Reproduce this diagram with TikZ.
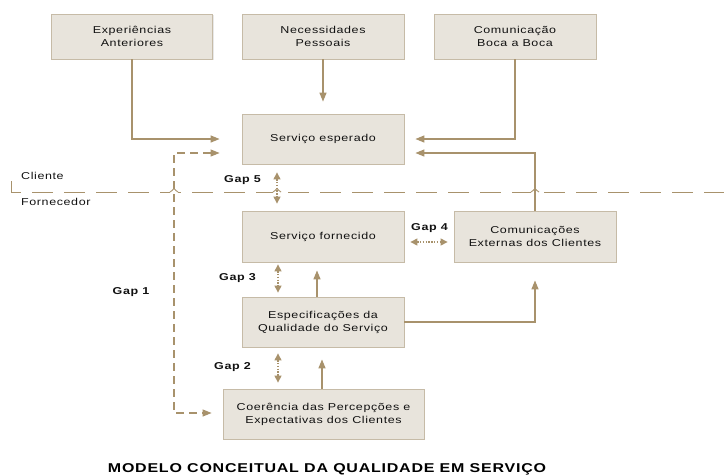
\documentclass[tikz,border=0pt]{standalone}
\usepackage{fontspec}
\setmainfont{Liberation Sans}[FakeStretch=1.25, LetterSpace=6]
\usetikzlibrary{arrows.meta,calc,shadows}
\definecolor{tan}{HTML}{A8926C}
\definecolor{boxfill}{HTML}{E8E4DC}
\definecolor{boxline}{HTML}{C6BBA7}
\definecolor{txt}{HTML}{111111}
\tikzset{
  box/.style={rectangle, fill=boxfill, draw=boxline, line width=0.8pt,
    drop shadow={shadow xshift=1.2pt, shadow yshift=-1.2pt, fill=black!18},
    align=center, font=\fontsize{10}{13}\selectfont, text=txt, inner sep=2pt},
  conn/.style={draw=tan, line width=1.3pt, -{Triangle[length=9pt,width=7pt]}},
  gapdots/.style={draw=tan, line width=1.1pt, dash pattern=on 1.4pt off 1.4pt,
    {Triangle[length=7pt,width=7pt]}-{Triangle[length=7pt,width=7pt]}},
  gaplabel/.style={font=\bfseries\fontsize{10}{12}\selectfont, text=txt, inner sep=0pt},
  side/.style={font=\fontsize{10}{12}\selectfont, text=txt, inner sep=0pt, anchor=west},
  hop/.style={draw=tan, line width=0.9pt},
}
\begin{document}
\begin{tikzpicture}[x=1pt,y=-1pt]
\useasboundingbox (0,0) rectangle (724,475);

% boxes
\node[box, minimum width=161pt, minimum height=45pt] (exp) at (132,36.5) {Experiências\\Anteriores};
\node[box, minimum width=162pt, minimum height=45pt] (nec) at (323,36.5) {Necessidades\\Pessoais};
\node[box, minimum width=162pt, minimum height=45pt] (boca) at (515,36.5) {Comunicação\\Boca a Boca};
\node[box, minimum width=162pt, minimum height=50pt] (esp) at (323,139) {Serviço esperado};
\node[box, minimum width=162pt, minimum height=51pt] (forn) at (323,236.5) {Serviço fornecido};
\node[box, minimum width=162pt, minimum height=51pt] (ext) at (535,236.5) {Comunicações\\Externas dos Clientes};
\node[box, minimum width=162pt, minimum height=50pt] (spec) at (323,322) {Especificações da\\Qualidade do Serviço};
\node[box, minimum width=201pt, minimum height=50pt] (coer) at (323.5,414) {Coerência das Percepções e\\Expectativas dos Clientes};

% client / supplier separator
\coordinate (sepA) at (11,181);
\coordinate (sepB) at (11,192);
\coordinate (sepC) at (724,192);
\draw[tan, line width=0.9pt, dash pattern=on 21pt off 11pt] (sepA) -- (sepB) -- (sepC);
\node[side] (cli) at (21,176) {Cliente};
\node[side] (forntxt) at (21,202) {Fornecedor};

% helper coordinates
\coordinate (expIn) at ($(esp.west)+(-22,0)$);
\coordinate (bocaIn) at ($(esp.east)+(11,0)$);
\coordinate (extIn) at ($(esp.east)+(11,14)$);
\coordinate (gapOneTop) at ($(esp.west)+(-22,14)$);
\coordinate (gapOneCorner) at (174,153);
\coordinate (gapOneBottom) at ($(coer.west)+(-11,-1)$);

% hops of the separator over crossing lines
\foreach \hx in {174,277,535}{
  \fill[white] (\hx-4,190.5) rectangle (\hx+4,193.5);
  \draw[hop] (\hx-4,192) .. controls (\hx-1.5,192) and (\hx-1.5,188.5) .. (\hx,188.5)
     .. controls (\hx+1.5,188.5) and (\hx+1.5,192) .. (\hx+4,192);
}

% solid connectors
\draw[conn] (exp.south) |- (expIn);
\draw[conn, shorten >=12pt] (nec.south) -- (esp.north);
\draw[conn] (boca.south) |- (bocaIn);
\draw[conn] (ext.north) |- (extIn);
\draw[conn, shorten >=8pt] ($(spec.north)+(-6,0)$) -- ($(forn.south)+(-6,0)$);
\draw[conn, shorten >=12pt] ($(coer.north)+(-1.5,0)$) -- ($(spec.south)+(-1,0)$);
\draw[conn, shorten >=18pt] (spec.east) -| (ext.south);

% Gap 1 dashed
\draw[tan, line width=1.1pt, dash pattern=on 8pt off 5pt,
  {Triangle[length=9pt,width=7pt]}-{Triangle[length=9pt,width=7pt]}]
  (gapOneTop) -- (gapOneCorner) |- (gapOneBottom);

% gaps
\draw[gapdots, shorten <=8pt, shorten >=7pt] ($(esp.south)+(-46,0)$) -- ($(forn.north)+(-46,0)$);
\draw[gapdots, shorten <=6pt, shorten >=6pt] ($(forn.east)+(0,5.5)$) -- ($(ext.west)+(0,5.5)$);
\draw[gapdots, shorten <=2pt, shorten >=4pt] ($(forn.south)+(-45,0)$) -- ($(spec.north)+(-45,0)$);
\draw[gapdots, shorten <=6pt, shorten >=6pt] ($(spec.south)+(-45,0)$) -- ($(coer.north)+(-45.5,0)$);

\node[gaplabel] (g5) at (242.5,180) {Gap 5};
\node[gaplabel] (g4) at (429.5,228) {Gap 4};
\node[gaplabel] (g3) at (237.5,278) {Gap 3};
\node[gaplabel] (g2) at (232.5,367) {Gap 2};
\node[gaplabel] (g1) at (131,292) {Gap 1};

\node[font=\bfseries\fontsize{12.8}{14}\selectfont, text=black, inner sep=0pt] (title) at (327,469) {MODELO CONCEITUAL DA QUALIDADE EM SERVIÇO};
\end{tikzpicture}
\end{document}
